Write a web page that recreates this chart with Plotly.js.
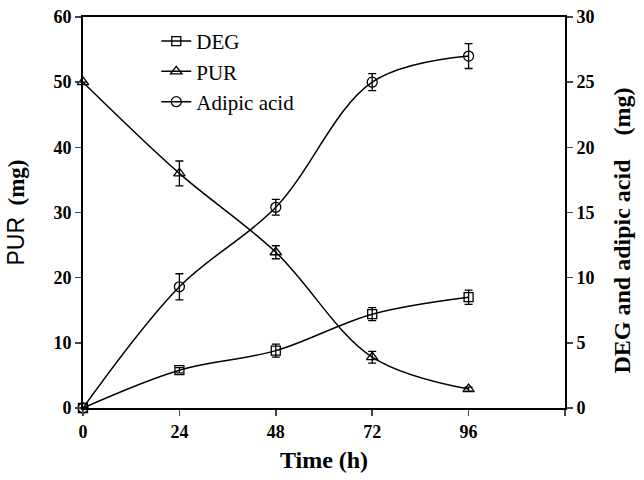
<!DOCTYPE html>
<html>
<head>
<meta charset="utf-8">
<script src="https://cdn.plot.ly/plotly-3.0.1.min.js"></script>
<style>html,body{margin:0;padding:0;background:#fff;}#chart{width:644px;height:480px;}</style>
</head>
<body>
<div id="chart"></div>
<script>
var timeH = [0, 24, 48, 72, 96];
var degMg = [0, 2.9, 4.4, 7.2, 8.5];
var degErr = [0, 0.2, 0.5, 0.5, 0.55];
var purMg = [50, 36.0, 23.9, 7.8, 2.9];
var purErr = [0, 1.9, 1.0, 0.9, 0.3];
var adipicMg = [0, 9.3, 15.4, 25.0, 27.0];
var adipicErr = [0, 1.0, 0.6, 0.65, 0.95];
var xTicks = [0, 24, 48, 72, 96, 120];
var xTickText = ['0', '24', '48', '72', '96', ''];

var serif = 'Liberation Serif, Times New Roman, serif';
var nb = '\u00a0';
function errObj(arr) {
  return {type: 'data', array: arr, visible: true, color: '#000', thickness: 1.3, width: 4};
}
var lineStyle = {color: '#000', width: 1.5, shape: 'spline', smoothing: 1};

var traces = [
  {x: timeH, y: degMg, name: 'DEG', yaxis: 'y2', mode: 'lines+markers',
   line: lineStyle, error_y: errObj(degErr), cliponaxis: false,
   marker: {symbol: 'square-open', size: 9, color: '#000', line: {width: 1.3, color: '#000'}}},
  {x: timeH, y: purMg, name: 'PUR', yaxis: 'y', mode: 'lines+markers',
   line: lineStyle, error_y: errObj(purErr), cliponaxis: false,
   marker: {symbol: 'triangle-up-open', size: 10, color: '#000', line: {width: 1.3, color: '#000'}}},
  {x: timeH, y: adipicMg, name: 'Adipic acid', yaxis: 'y2', mode: 'lines+markers',
   line: lineStyle, error_y: errObj(adipicErr), cliponaxis: false,
   marker: {symbol: 'circle-open', size: 10, color: '#000', line: {width: 1.3, color: '#000'}}}
];

var tickFont = {family: serif, size: 18, color: '#000', weight: 'bold'};
var rightTitle = '<b>DEG and adipic acid' + nb + nb + nb + nb + '(mg)' + nb.repeat(6) + '</b>';
var layout = {
  width: 644, height: 480,
  margin: {l: 83, r: 79, t: 17, b: 72},
  paper_bgcolor: '#fff', plot_bgcolor: '#fff',
  showlegend: true,
  legend: {x: 0.152, y: 0.99, xanchor: 'left', yanchor: 'top', bgcolor: 'rgba(0,0,0,0)',
           traceorder: 'normal',
           font: {family: serif, size: 21, color: '#000'}},
  xaxis: {range: [0, 120], tickvals: xTicks, ticktext: xTickText, ticks: 'outside', ticklen: 6, tickwidth: 1.5,
          showline: true, linewidth: 2, linecolor: '#000', mirror: true, showgrid: false, zeroline: false,
          tickfont: tickFont,
          title: {text: '<b>Time (h)</b>', font: {family: serif, size: 24, color: '#000'}, standoff: 11}},
  yaxis: {range: [0, 60], tickvals: [0, 10, 20, 30, 40, 50, 60], ticks: 'outside', ticklen: 6, tickwidth: 1.5,
          showline: true, linewidth: 2, linecolor: '#000', showgrid: false, zeroline: false,
          tickfont: tickFont,
          title: {text: '<span style="font-family:Liberation Sans,Arial,sans-serif">PUR</span>  <b>(mg)</b>', font: {family: serif, size: 23, color: '#000'}, standoff: 22}},
  yaxis2: {range: [0, 30], tickvals: [0, 5, 10, 15, 20, 25, 30], overlaying: 'y', side: 'right',
           ticks: 'outside', ticklen: 6, tickwidth: 1.5,
           showline: true, linewidth: 2, linecolor: '#000', showgrid: false, zeroline: false,
           tickfont: tickFont,
           title: {text: rightTitle, font: {family: serif, size: 24, color: '#000'}, standoff: 20}}
};

Plotly.newPlot('chart', traces, layout, {displayModeBar: false, staticPlot: true});
</script>
</body>
</html>
